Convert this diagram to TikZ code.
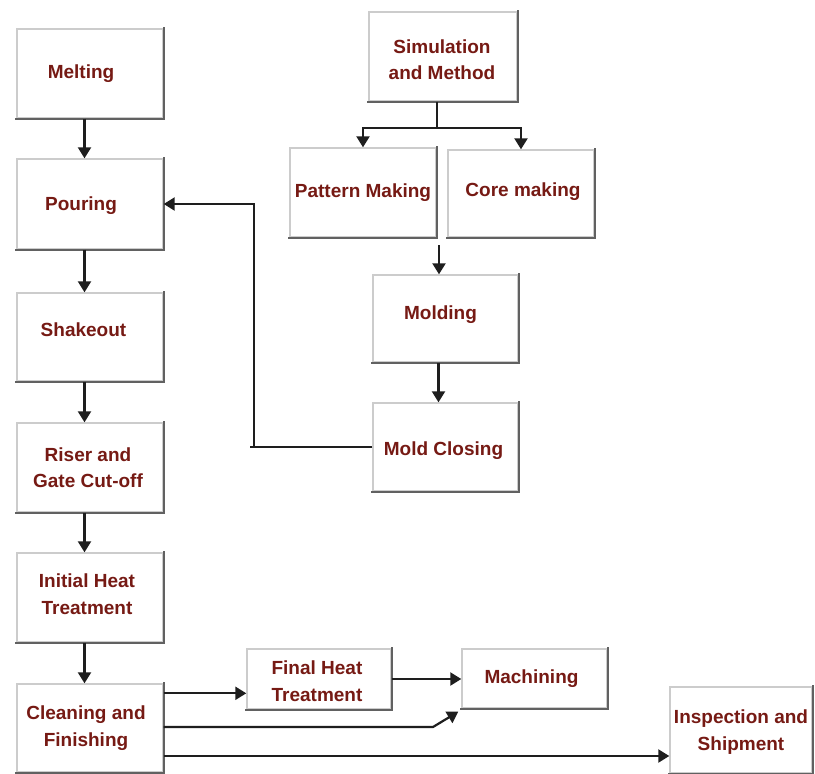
\documentclass[tikz,border=0pt]{standalone}
\usepackage{fontspec}
\setmainfont{Liberation Sans}
\usetikzlibrary{arrows.meta,calc}
\definecolor{txtred}{RGB}{118,26,20}
\definecolor{linec}{RGB}{30,30,30}
\begin{document}
\begin{tikzpicture}[x=1pt,y=-1pt,
  box/.style={draw=gray!40,line width=1.4pt,fill=white,inner sep=0pt},
  txt/.style={text=txtred,font=\fontsize{19}{26.5}\selectfont\bfseries,align=center,inner sep=0pt},
  edgeline/.style={draw=black!62,line width=2.2pt,line cap=rect},
  line/.style={draw=linec,line width=2.2pt},
  arr/.style={line,-{Triangle[length=11pt,width=13pt]}}]
\useasboundingbox[fill=white] (0,0) rectangle (815,774);
% left column
\node[box,minimum width=146pt,minimum height=89pt,label={[txt,xshift=-9pt]center:Melting}] (melt) at (90,73.5) {};
\node[box,minimum width=146pt,minimum height=90pt,label={[txt,xshift=-9pt,yshift=-2pt]center:Pouring}] (pour) at (90,204) {};
\node[box,minimum width=146pt,minimum height=88pt,label={[txt,xshift=-6.5pt,yshift=7pt]center:Shakeout}] (shake) at (90,337) {};
\node[box,minimum width=146pt,minimum height=89pt,label={[txt,xshift=-2pt]center:Riser and\\Gate Cut-off}] (riser) at (90,467.5) {};
\node[box,minimum width=146pt,minimum height=89pt,label={[txt,xshift=-3pt,yshift=3.5pt]center:Initial Heat\\Treatment}] (init) at (90,597.5) {};
\node[box,minimum width=146pt,minimum height=88pt,label={[txt,xshift=-4pt]center:Cleaning and\\Finishing}] (clean) at (90,728) {};
% right part
\node[box,minimum width=148pt,minimum height=89pt,label={[txt,xshift=-1pt,yshift=-3pt]center:Simulation\\and Method}] (sim) at (443,56.5) {};
\node[box,minimum width=146pt,minimum height=89pt,label={[txt]center:Pattern Making}] (pat) at (363,192.5) {};
\node[box,minimum width=146pt,minimum height=87pt,label={[txt,xshift=2pt,yshift=1.5pt]center:Core making}] (core) at (521,193.5) {};
\node[box,minimum width=145pt,minimum height=87pt,label={[txt,xshift=-5pt,yshift=3.5pt]center:Molding}] (mold) at (445.5,318.5) {};
\node[box,minimum width=145pt,minimum height=88pt,label={[txt,xshift=-2pt,yshift=-4pt]center:Mold Closing}] (close) at (445.5,447) {};
\node[box,minimum width=144pt,minimum height=60pt,label={[txt,xshift=-2pt,yshift=-2pt]center:Final Heat\\Treatment}] (final) at (319,679) {};
\node[box,minimum width=145pt,minimum height=59pt,label={[txt,xshift=-3pt]center:Machining}] (mach) at (534.5,678.5) {};
\node[box,minimum width=142pt,minimum height=86pt,label={[txt,yshift=-2pt]center:Inspection and\\Shipment}] (insp) at (741,730) {};
% darker bottom/right edges
\foreach \n in {melt,pour,shake,riser,init,clean,sim,pat,core,mold,close,final,mach,insp}
  \draw[edgeline] (\n.north east) -- (\n.south east) -- (\n.south west);
% left column arrows
\draw[arr] ([xshift=-5.5pt]melt.south) -- ([xshift=-5.5pt]pour.north);
\draw[arr] ([xshift=-5.5pt]pour.south) -- ([xshift=-5.5pt]shake.north);
\draw[arr] ([xshift=-5.5pt]shake.south) -- ([xshift=-5.5pt]riser.north);
\draw[arr] ([xshift=-5.5pt]riser.south) -- ([xshift=-5.5pt]init.north);
\draw[arr] ([xshift=-5.5pt]init.south) -- ([xshift=-5.5pt]clean.north);
% simulation split
\coordinate (sj) at (437,128);
\draw[line] (sj |- sim.south) -- (sj);
\draw[arr] (sj) -| (pat.north);
\draw[arr] (sj) -| (core.north);
% pattern/core to molding
\coordinate (pm) at (439,245);
\draw[arr] (pm) -- (pm |- mold.north);
\draw[arr] ([xshift=-7pt]mold.south) -- ([xshift=-7pt]close.north);
% feedback to pouring
\coordinate (fb) at (254,447);
\draw[line] (close.west) -- ([xshift=-4pt]fb);
\draw[arr] (fb) |- (pour.east);
% bottom flows
\draw[arr] ([yshift=-10pt]clean.north east) -- ([yshift=-10pt]clean.north east -| final.west);
\draw[arr] (final.east) -- (final.east -| mach.west);
\coordinate (bend) at (433,727);
\draw[arr] (clean.east |- bend) -- (bend) -- ([xshift=-3pt,yshift=-3pt]mach.south west);
\coordinate (ib) at (200,756);
\draw[arr] (clean.east |- ib) -- (ib -| insp.west);
\end{tikzpicture}
\end{document}
